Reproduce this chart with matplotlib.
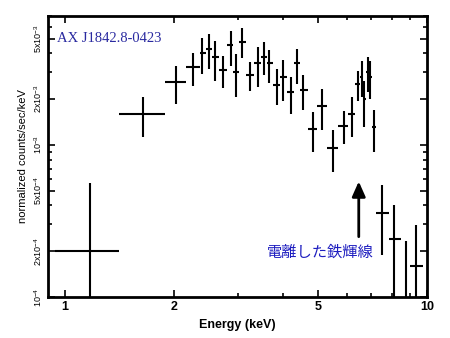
import numpy as np
import matplotlib
matplotlib.use('Agg')
import matplotlib.pyplot as plt
from matplotlib.ticker import FixedLocator, NullFormatter

plt.rcParams['font.family'] = ['Liberation Sans', 'DejaVu Sans']
plt.rcParams['mathtext.fontset'] = 'custom'
plt.rcParams['mathtext.rm'] = 'Liberation Sans'
plt.rcParams['mathtext.it'] = 'Liberation Sans'

# energy bins (keV): centre, lower edge, upper edge
e_mid = [1.178, 1.646, 2.026, 2.262, 2.401, 2.504, 2.597, 2.727, 2.874, 2.967,
         3.077, 3.244, 3.420, 3.553, 3.661, 3.845, 4.009, 4.203, 4.374, 4.536,
         4.834, 5.128, 5.488, 5.898, 6.194, 6.435, 6.600, 6.711, 6.858, 6.958,
         7.139, 7.525, 8.123, 8.734, 9.324]
e_lo = [0.938, 1.410, 1.889, 2.169, 2.360, 2.450, 2.550, 2.660, 2.800, 2.920,
        3.020, 3.160, 3.330, 3.490, 3.610, 3.750, 3.930, 4.100, 4.290, 4.450,
        4.680, 4.980, 5.300, 5.690, 6.050, 6.310, 6.520, 6.660, 6.780, 6.910,
        7.050, 7.220, 7.860, 8.460, 8.970]
e_hi = [1.410, 1.889, 2.169, 2.360, 2.450, 2.550, 2.660, 2.800, 2.920, 3.020,
        3.160, 3.330, 3.490, 3.610, 3.750, 3.930, 4.100, 4.290, 4.450, 4.680,
        4.980, 5.300, 5.690, 6.050, 6.310, 6.520, 6.660, 6.780, 6.910, 7.050,
        7.220, 7.860, 8.460, 8.970, 9.770]

# normalized counts/sec/keV with 1-sigma range
rate = [2.01e-4, 1.60e-3, 2.58e-3, 3.24e-3, 4.00e-3, 4.27e-3, 3.77e-3, 3.13e-3, 4.54e-3, 3.00e-3,
        4.79e-3, 2.90e-3, 3.44e-3, 3.80e-3, 3.44e-3, 2.49e-3, 2.78e-3, 2.22e-3, 3.44e-3, 2.30e-3,
        1.28e-3, 1.81e-3, 9.56e-4, 1.33e-3, 1.60e-3, 2.52e-3, 2.81e-3, 2.01e-3, 3.00e-3, 2.81e-3,
        1.31e-3, 3.59e-4, 2.40e-4, 8.0e-5, 1.60e-4]
rate_lo = [5.0e-5, 1.125e-3, 1.87e-3, 2.455e-3, 2.94e-3, 3.17e-3, 2.65e-3, 2.38e-3, 3.32e-3, 2.06e-3,
           3.73e-3, 2.25e-3, 2.42e-3, 2.90e-3, 2.54e-3, 1.82e-3, 1.96e-3, 1.60e-3, 2.53e-3, 1.70e-3,
           8.97e-4, 1.245e-3, 6.63e-4, 1.008e-3, 1.125e-3, 1.94e-3, 2.06e-3, 1.322e-3, 2.22e-3, 2.01e-3,
           8.97e-4, 1.886e-4, 5.0e-5, 3.0e-5, 5.0e-5]
rate_hi = [5.62e-4, 2.08e-3, 3.32e-3, 4.04e-3, 5.07e-3, 5.38e-3, 4.84e-3, 3.86e-3, 5.63e-3, 3.98e-3,
           5.92e-3, 3.53e-3, 4.38e-3, 4.72e-3, 4.21e-3, 3.16e-3, 3.62e-3, 2.78e-3, 4.29e-3, 2.90e-3,
           1.64e-3, 2.34e-3, 1.245e-3, 1.666e-3, 2.08e-3, 3.08e-3, 3.58e-3, 2.65e-3, 3.80e-3, 3.58e-3,
           1.70e-3, 5.43e-4, 4.01e-4, 2.34e-4, 2.97e-4]

x_ticks = [1, 2, 5, 10]
y_ticks = [1e-4, 2e-4, 5e-4, 1e-3, 2e-3, 5e-3]
y_labels = ['10$^{-4}$', '2x10$^{-4}$', '5x10$^{-4}$', '10$^{-3}$', '2x10$^{-3}$', '5x10$^{-3}$']

e_mid = np.array(e_mid)
rate = np.array(rate)
xerr = [e_mid - np.array(e_lo), np.array(e_hi) - e_mid]
yerr = [rate - np.array(rate_lo), np.array(rate_hi) - rate]

fig = plt.figure(figsize=(4.5, 3.38), dpi=100)
ax = fig.add_axes([0.1067, 0.1213, 0.8423, 0.8314])
ax.errorbar(e_mid, rate, xerr=xerr, yerr=yerr, fmt='none', ecolor='black',
            elinewidth=1.5, capsize=0)

ax.set_xscale('log')
ax.set_yscale('log')
ax.set_xlim(0.9, 10)
ax.set_ylim(1e-4, 7.05e-3)

ax.xaxis.set_major_locator(FixedLocator(x_ticks))
ax.set_xticklabels([str(t) for t in x_ticks], fontsize=9, fontweight='bold')
ax.xaxis.set_minor_locator(FixedLocator([3, 4, 6, 7, 8, 9]))
ax.xaxis.set_minor_formatter(NullFormatter())
ax.yaxis.set_major_locator(FixedLocator(y_ticks))
ax.set_yticklabels(y_labels, fontsize=6.5, rotation=90, va='center')
ax.yaxis.set_minor_locator(FixedLocator([3e-4, 4e-4, 6e-4, 7e-4, 8e-4, 9e-4,
                                         3e-3, 4e-3, 6e-3, 7e-3]))
ax.yaxis.set_minor_formatter(NullFormatter())
ax.tick_params(which='both', direction='in', top=True, right=True, width=1.2)
ax.tick_params(which='major', length=5, pad=3)
ax.tick_params(which='minor', length=3)
for s in ax.spines.values():
    s.set_linewidth(2)

ax.set_xlabel('Energy (keV)', fontsize=9, fontweight='bold', labelpad=4)
ax.set_ylabel('normalized counts/sec/keV', fontsize=8, labelpad=3)

ax.text(0.025, 0.92, 'AX J1842.8-0423', transform=ax.transAxes, fontsize=10.5,
        family='Liberation Serif', color='#2a2aa0', va='center')
ax.annotate('', xy=(6.48, 6.0e-4), xytext=(6.48, 2.39e-4),
            arrowprops=dict(arrowstyle='-|>,head_length=0.9,head_width=0.4',
                            color='black', lw=2))
ax.text(5.06, 1.97e-4, '電離した鉄輝線', fontsize=11, color='#1f1fc0',
        family=['Noto Sans CJK JP', 'DejaVu Sans'], ha='center', va='center')

fig.savefig('out.png', dpi=100)
